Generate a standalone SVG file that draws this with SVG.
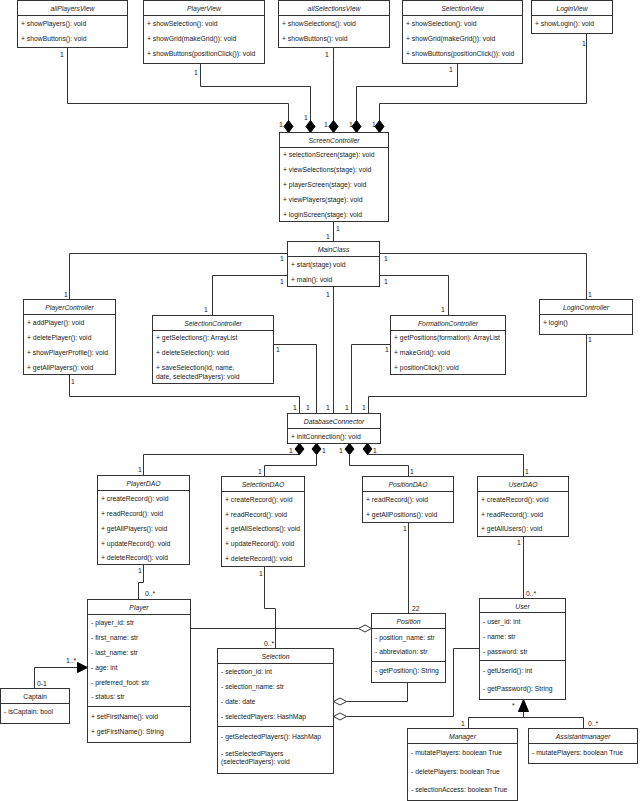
<svg xmlns="http://www.w3.org/2000/svg" width="641" height="801" viewBox="0 0 641 801">
<style>
text{font-family:"Liberation Sans",Arial,sans-serif;font-size:6.8px;fill:#1a1a1a;dominant-baseline:central}
.t{font-style:italic;text-anchor:middle}
.n{text-anchor:middle}
.box{fill:#fff;stroke:#333;stroke-width:1}
.sep{stroke:#333;stroke-width:1}
.c{fill:none;stroke:#333;stroke-width:1}
.fd{fill:#000;stroke:#000;stroke-width:1}
.hd{fill:#fff;stroke:#333;stroke-width:1}
</style>
<rect width="641" height="801" fill="#fff"/>

<g id="connectors">
<polyline class="c" points="67.5,47.5 67.5,103.5 288.5,103.5 288.5,121"/>
<polyline class="c" points="200.5,63.5 200.5,86.5 310.5,86.5 310.5,121"/>
<polyline class="c" points="333.5,47.5 333.5,121"/>
<polyline class="c" points="457.5,63.5 457.5,86.5 356.5,86.5 356.5,121"/>
<polyline class="c" points="586.5,33.5 586.5,103.5 379.5,103.5 379.5,121"/>
<path class="fd" d="M288.5,120.5 l4.5,6 -4.5,6 -4.5,-6z"/>
<path class="fd" d="M310.5,120.5 l4.5,6 -4.5,6 -4.5,-6z"/>
<path class="fd" d="M333.5,120.5 l4.5,6 -4.5,6 -4.5,-6z"/>
<path class="fd" d="M356.5,120.5 l4.5,6 -4.5,6 -4.5,-6z"/>
<path class="fd" d="M379.5,120.5 l4.5,6 -4.5,6 -4.5,-6z"/>
<text x="60" y="54">1</text>
<text x="194" y="72">1</text>
<text x="325" y="54">1</text>
<text x="449" y="69">1</text>
<text x="582" y="43">1</text>
<text x="279" y="124">1</text>
<text x="304" y="117">1</text>
<text x="324" y="124">1</text>
<text x="349" y="124">1</text>
<text x="372" y="124">1</text>
<polyline class="c" points="333.5,221.5 333.5,241.5"/>
<text x="336" y="228">1</text>
<text x="326" y="236">1</text>
<polyline class="c" points="287.5,253.5 69.5,253.5 69.5,299.5"/>
<polyline class="c" points="287.5,275.5 212.5,275.5 212.5,315.5"/>
<polyline class="c" points="379.5,253.5 586.5,253.5 586.5,299.5"/>
<polyline class="c" points="379.5,275.5 448.5,275.5 448.5,315.5"/>
<polyline class="c" points="333.5,286.5 333.5,413.5"/>
<text x="280" y="258">1</text>
<text x="64" y="294">1</text>
<text x="280" y="281">1</text>
<text x="204" y="309">1</text>
<text x="384" y="258">1</text>
<text x="588" y="294">1</text>
<text x="384" y="281">1</text>
<text x="441" y="309">1</text>
<text x="326" y="294">1</text>
<polyline class="c" points="69.5,374.5 69.5,396.5 299.5,396.5 299.5,413.5"/>
<polyline class="c" points="273.5,344.5 316.5,344.5 316.5,413.5"/>
<polyline class="c" points="390.5,344.5 351.5,344.5 351.5,413.5"/>
<polyline class="c" points="586.5,334.5 586.5,396.5 368.5,396.5 368.5,413.5"/>
<text x="71" y="381">1</text>
<text x="276" y="349">1</text>
<text x="385" y="349">1</text>
<text x="588" y="339">1</text>
<text x="293" y="407">1</text>
<text x="306" y="407">1</text>
<text x="326" y="407">1</text>
<text x="345" y="407">1</text>
<text x="362" y="407">1</text>
<polyline class="c" points="299.5,454.5 143.5,454.5 143.5,475.5"/>
<polyline class="c" points="316.5,454.5 316.5,465.5 264.5,465.5 264.5,476.5"/>
<polyline class="c" points="349.5,454.5 349.5,465.5 408.5,465.5 408.5,476.5"/>
<polyline class="c" points="367.5,454.5 523.5,454.5 523.5,476.5"/>
<path class="fd" d="M299.5,443.5 l4.5,5.5 -4.5,5.5 -4.5,-5.5z"/>
<path class="fd" d="M316.5,443.5 l4.5,5.5 -4.5,5.5 -4.5,-5.5z"/>
<path class="fd" d="M349.5,443.5 l4.5,5.5 -4.5,5.5 -4.5,-5.5z"/>
<path class="fd" d="M367.5,443.5 l4.5,5.5 -4.5,5.5 -4.5,-5.5z"/>
<text x="289" y="450">1</text>
<text x="322" y="450">1</text>
<text x="339" y="450">1</text>
<text x="373" y="450">1</text>
<text x="138" y="469">1</text>
<text x="258" y="471">1</text>
<text x="410" y="471">1</text>
<text x="525" y="471">1</text>
<polyline class="c" points="143.5,564.5 143.5,582.5 138.5,582.5 138.5,599.5"/>
<text x="138" y="570">1</text>
<text x="145" y="593">0..*</text>
<polyline class="c" points="264.5,566.5 264.5,608.5 275.5,608.5 275.5,648.5"/>
<text x="259" y="573">1</text>
<text x="264" y="643">0..*</text>
<polyline class="c" points="408.5,522.5 408.5,613.5"/>
<text x="403" y="528">1</text>
<text x="412" y="608">22</text>
<polyline class="c" points="523.5,536.5 523.5,598.5"/>
<text x="517" y="542">1</text>
<text x="526" y="593">0..*</text>
<polyline class="c" points="190.5,628.5 358.5,628.5"/>
<path class="hd" d="M371.5,628.5 l-6.5,-3.5 -6.5,3.5 6.5,3.5z"/>
<polyline class="c" points="407.5,682.5 407.5,701.5 346.5,701.5"/>
<path class="hd" d="M333.5,701.5 l6.5,-3.5 6.5,3.5 -6.5,3.5z"/>
<polyline class="c" points="479.5,648.5 453.5,648.5 453.5,716.5 346.5,716.5"/>
<path class="hd" d="M333.5,716.5 l6.5,-3.5 6.5,3.5 -6.5,3.5z"/>
<polyline class="c" points="34.5,688.5 34.5,667.5 77.5,667.5"/>
<path class="fd" d="M87.5,667.5 l-10,-5 0,10z"/>
<text x="37" y="683">0-1</text>
<text x="66" y="660">1..*</text>
<polyline class="c" points="523.5,711.5 523.5,717.5"/>
<polyline class="c" points="468.5,728.5 468.5,717.5 583.5,717.5 583.5,728.5"/>
<path class="fd" d="M523.5,699.5 l5,12 -10,0z"/>
<text x="512" y="705">*</text>
<text x="461" y="723">1</text>
<text x="588" y="723">0..*</text>
</g>

<g id="allPlayersView">
<rect class="box" x="17.5" y="0.5" width="110" height="47"/>
<line class="sep" x1="17.5" y1="15.5" x2="127.5" y2="15.5"/>
<text class="t" x="72.5" y="8">allPlayersView</text>
<text x="21" y="23">+ showPlayers(): void</text>
<text x="21" y="38">+ showButtons(): void</text>
</g>
<g id="PlayerView">
<rect class="box" x="143.5" y="0.5" width="121" height="63"/>
<line class="sep" x1="143.5" y1="15.5" x2="264.5" y2="15.5"/>
<text class="t" x="204" y="8">PlayerView</text>
<text x="147" y="23">+ showSelection(): void</text>
<text x="147" y="38">+ showGrid(makeGrid()): void</text>
<text x="147" y="53">+ showButtons(positionClick()): void</text>
</g>
<g id="allSelectionsView">
<rect class="box" x="278.5" y="0.5" width="111" height="47"/>
<line class="sep" x1="278.5" y1="15.5" x2="389.5" y2="15.5"/>
<text class="t" x="334" y="8">allSelectionsView</text>
<text x="282" y="23">+ showSelections(): void</text>
<text x="282" y="38">+ showButtons(): void</text>
</g>
<g id="SelectionView">
<rect class="box" x="402.5" y="0.5" width="120" height="63"/>
<line class="sep" x1="402.5" y1="15.5" x2="522.5" y2="15.5"/>
<text class="t" x="462.5" y="8">SelectionView</text>
<text x="406" y="23">+ showSelection(): void</text>
<text x="406" y="38">+ showGrid(makeGrid()): void</text>
<text x="406" y="53">+ showButtons(positionClick()): void</text>
</g>
<g id="LoginView">
<rect class="box" x="531.5" y="0.5" width="81" height="33"/>
<line class="sep" x1="531.5" y1="15.5" x2="612.5" y2="15.5"/>
<text class="t" x="572" y="8">LoginView</text>
<text x="535" y="23">+ showLogin(): void</text>
</g>

<g id="ScreenController">
<rect class="box" x="279.5" y="132.5" width="109" height="89"/>
<line class="sep" x1="279.5" y1="147.5" x2="388.5" y2="147.5"/>
<text class="t" x="334" y="140">ScreenController</text>
<text x="283" y="154">+ selectionScreen(stage): void</text>
<text x="283" y="169">+ viewSelections(stage): void</text>
<text x="283" y="184">+ playerScreen(stage): void</text>
<text x="283" y="199">+ viewPlayers(stage): void</text>
<text x="283" y="214">+ loginScreen(stage): void</text>
</g>
<g id="MainClass">
<rect class="box" x="287.5" y="241.5" width="92" height="45"/>
<line class="sep" x1="287.5" y1="256.5" x2="379.5" y2="256.5"/>
<text class="t" x="333.5" y="249">MainClass</text>
<text x="291" y="264">+ start(stage) void</text>
<text x="291" y="279">+ main(): void</text>
</g>

<g id="PlayerController">
<rect class="box" x="23.5" y="299.5" width="92" height="75"/>
<line class="sep" x1="23.5" y1="314.5" x2="115.5" y2="314.5"/>
<text class="t" x="69.5" y="307">PlayerController</text>
<text x="27" y="322">+ addPlayer(): void</text>
<text x="27" y="337">+ deletePlayer(): void</text>
<text x="27" y="352">+ showPlayerProfile(): void</text>
<text x="27" y="367">+ getAllPlayers(): void</text>
</g>
<g id="SelectionController">
<rect class="box" x="152.5" y="315.5" width="121" height="68"/>
<line class="sep" x1="152.5" y1="330.5" x2="273.5" y2="330.5"/>
<text class="t" x="213" y="323">SelectionController</text>
<text x="156" y="337">+ getSelections(): ArrayList</text>
<text x="156" y="352">+ deleteSelection(): void</text>
<text x="156" y="367">+ saveSelection(id, name,</text>
<text x="156" y="376">date, selectedPlayers): void</text>
</g>
<g id="FormationController">
<rect class="box" x="390.5" y="315.5" width="115" height="59"/>
<line class="sep" x1="390.5" y1="330.5" x2="505.5" y2="330.5"/>
<text class="t" x="448" y="323">FormationController</text>
<text x="394" y="337">+ getPositions(formation): ArrayList</text>
<text x="394" y="352">+ makeGrid(): void</text>
<text x="394" y="367">+ positionClick(): void</text>
</g>
<g id="LoginController">
<rect class="box" x="539.5" y="299.5" width="93" height="35"/>
<line class="sep" x1="539.5" y1="314.5" x2="632.5" y2="314.5"/>
<text class="t" x="586" y="307">LoginController</text>
<text x="543" y="322">+ login()</text>
</g>

<g id="DatabaseConnector">
<rect class="box" x="287.5" y="413.5" width="93" height="30"/>
<line class="sep" x1="287.5" y1="428.5" x2="380.5" y2="428.5"/>
<text class="t" x="334" y="421">DatabaseConnector</text>
<text x="291" y="436">+ initConnection(): void</text>
</g>

<g id="PlayerDAO">
<rect class="box" x="97.5" y="475.5" width="92" height="89"/>
<line class="sep" x1="97.5" y1="490.5" x2="189.5" y2="490.5"/>
<text class="t" x="143.5" y="483">PlayerDAO</text>
<text x="101" y="498">+ createRecord(): void</text>
<text x="101" y="513">+ readRecord(): void</text>
<text x="101" y="528">+ getAllPlayers(): void</text>
<text x="101" y="543">+ updateRecord(): void</text>
<text x="101" y="557">+ deleteRecord(): void</text>
</g>
<g id="SelectionDAO">
<rect class="box" x="221.5" y="476.5" width="83" height="90"/>
<line class="sep" x1="221.5" y1="491.5" x2="304.5" y2="491.5"/>
<text class="t" x="263" y="484">SelectionDAO</text>
<text x="225" y="499">+ createRecord(): void</text>
<text x="225" y="514">+ readRecord(): void</text>
<text x="225" y="528">+ getAllSelections(): void</text>
<text x="225" y="543">+ updateRecord(): void</text>
<text x="225" y="558">+ deleteRecord(): void</text>
</g>
<g id="PositionDAO">
<rect class="box" x="362.5" y="476.5" width="91" height="46"/>
<line class="sep" x1="362.5" y1="491.5" x2="453.5" y2="491.5"/>
<text class="t" x="408" y="484">PositionDAO</text>
<text x="366" y="499">+ readRecord(): void</text>
<text x="366" y="514">+ getAllPositions(): void</text>
</g>
<g id="UserDAO">
<rect class="box" x="477.5" y="476.5" width="91" height="60"/>
<line class="sep" x1="477.5" y1="491.5" x2="568.5" y2="491.5"/>
<text class="t" x="523" y="484">UserDAO</text>
<text x="481" y="499">+ createRecord(): void</text>
<text x="481" y="514">+ readRecord(): void</text>
<text x="481" y="528">+ getAllUsers(): void</text>
</g>

<g id="Player">
<rect class="box" x="87.5" y="599.5" width="103" height="143"/>
<line class="sep" x1="87.5" y1="614.5" x2="190.5" y2="614.5"/>
<line class="sep" x1="87.5" y1="706.5" x2="190.5" y2="706.5"/>
<text class="t" x="139" y="607">Player</text>
<text x="91" y="622">- player_id: str</text>
<text x="91" y="637">- first_name: str</text>
<text x="91" y="652">- last_name: str</text>
<text x="91" y="667">- age: int</text>
<text x="91" y="682">- preferred_foot: str</text>
<text x="91" y="696">- status: str</text>
<text x="91" y="716">+ setFirstName(): void</text>
<text x="91" y="731">+ getFirstName(): String</text>
</g>
<g id="Captain">
<rect class="box" x="0.5" y="688.5" width="69" height="35"/>
<line class="sep" x1="0.5" y1="703.5" x2="69.5" y2="703.5"/>
<text class="n" x="35" y="696">Captain</text>
<text x="4" y="711">- isCaptain: bool</text>
</g>
<g id="Position">
<rect class="box" x="371.5" y="613.5" width="74" height="69"/>
<line class="sep" x1="371.5" y1="628.5" x2="445.5" y2="628.5"/>
<line class="sep" x1="371.5" y1="661.5" x2="445.5" y2="661.5"/>
<text class="t" x="408.5" y="621">Position</text>
<text x="375" y="637">- position_name: str</text>
<text x="375" y="651">- abbreviation: str</text>
<text x="375" y="670">- getPosition(): String</text>
</g>
<g id="Selection">
<rect class="box" x="217.5" y="648.5" width="116" height="125"/>
<line class="sep" x1="217.5" y1="663.5" x2="333.5" y2="663.5"/>
<line class="sep" x1="217.5" y1="726.5" x2="333.5" y2="726.5"/>
<text class="t" x="275.5" y="656">Selection</text>
<text x="221" y="671">- selection_id: int</text>
<text x="221" y="686">- selection_name: str</text>
<text x="221" y="701">- date: date</text>
<text x="221" y="716">- selectedPlayers: HashMap</text>
<text x="221" y="736">- getSelectedPlayers(): HashMap</text>
<text x="221" y="753">- setSelectedPlayers</text>
<text x="221" y="761">(selectedPlayers): void</text>
</g>
<g id="User">
<rect class="box" x="479.5" y="598.5" width="86" height="101"/>
<line class="sep" x1="479.5" y1="612.5" x2="565.5" y2="612.5"/>
<line class="sep" x1="479.5" y1="660.5" x2="565.5" y2="660.5"/>
<text class="t" x="522.5" y="606">User</text>
<text x="483" y="621">- user_id: int</text>
<text x="483" y="636">- name: str</text>
<text x="483" y="651">- password: str</text>
<text x="483" y="670">- getUserId(): int</text>
<text x="483" y="688">- getPassword(): String</text>
</g>
<g id="Manager">
<rect class="box" x="407.5" y="728.5" width="110" height="72"/>
<line class="sep" x1="407.5" y1="743.5" x2="517.5" y2="743.5"/>
<text class="t" x="462.5" y="736">Manager</text>
<text x="411" y="752">- mutatePlayers: boolean True</text>
<text x="411" y="771">- deletePlayers: boolean True</text>
<text x="411" y="789">- selectionAccess: boolean True</text>
</g>
<g id="Assistantmanager">
<rect class="box" x="528.5" y="728.5" width="109" height="35"/>
<line class="sep" x1="528.5" y1="743.5" x2="637.5" y2="743.5"/>
<text class="t" x="583" y="736">Assistantmanager</text>
<text x="532" y="752">- mutatePlayers: boolean True</text>
</g>
</svg>
